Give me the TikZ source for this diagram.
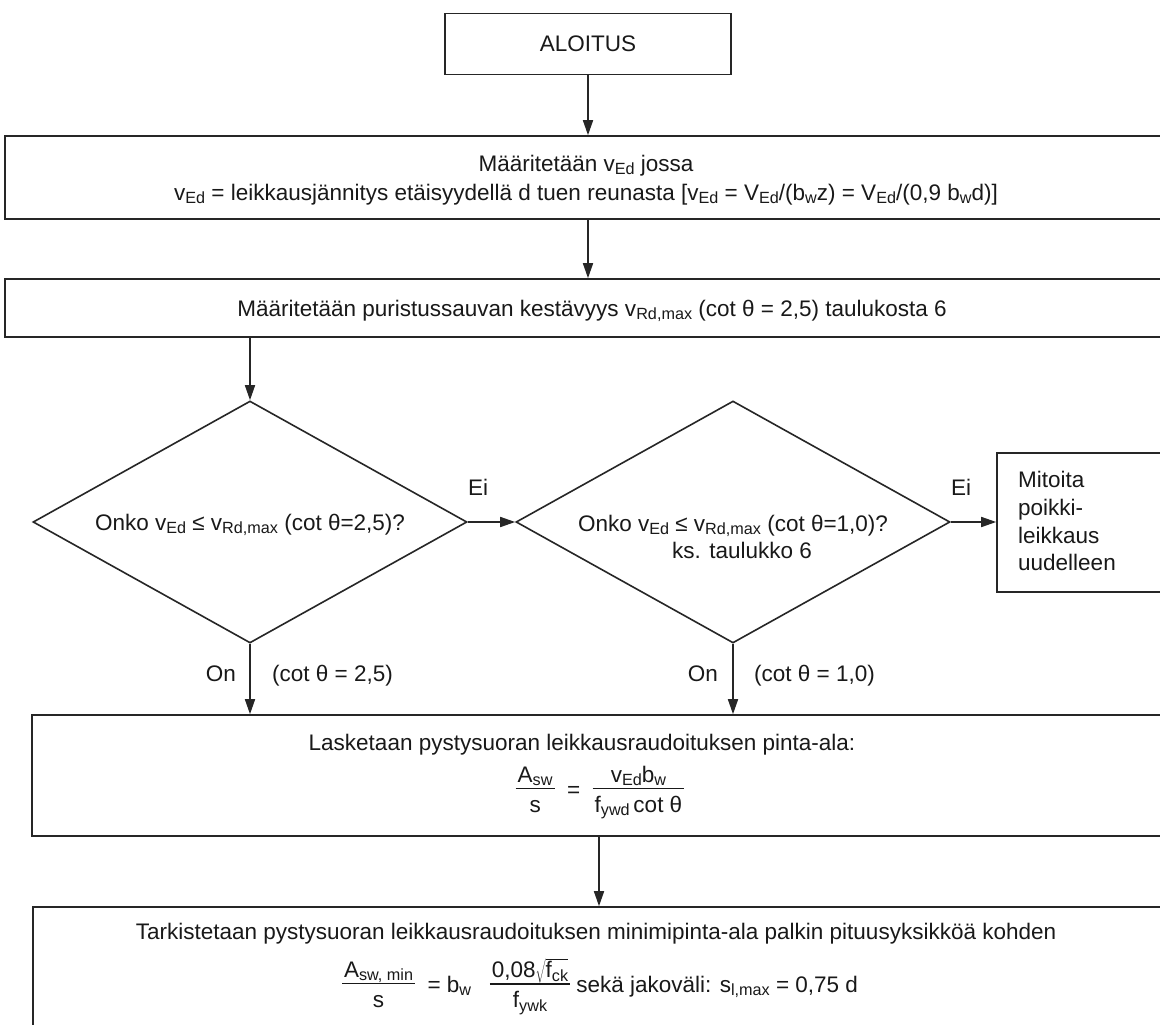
\documentclass[tikz,border=0pt]{standalone}
\usepackage{fontspec}
\setmainfont{Liberation Sans}
\usetikzlibrary{arrows.meta,shapes.geometric}
\newcommand\sbx[1]{\raisebox{-0.3ex}{\scalebox{0.72}{#1}}}
\newcommand\fr[2]{{\setlength\arrayrulewidth{1.4pt}\renewcommand\arraystretch{1.0}\begin{tabular}[c]{@{\hspace{2pt}}c@{\hspace{2pt}}}#1\\[-2pt]\hline\rule{0pt}{23pt}#2\end{tabular}}}
\begin{document}
\begin{tikzpicture}[x=1pt,y=-1pt,
  box/.style={draw=black!85, line width=1.6pt, rectangle, inner sep=0pt},
  dia/.style={draw=black!85, line width=1.6pt, diamond, inner sep=0pt, minimum width=434pt, minimum height=242pt},
  txt/.style={inner sep=0pt, anchor=base, font=\fontsize{22.5}{26}\selectfont, text=black!90},
  arr/.style={draw=black!85, line width=1.6pt, -{Triangle[length=15pt,width=10pt]}}]
\useasboundingbox (0,0) rectangle (1160,1025);
\clip (0,0) rectangle (1160,1025);
\fill[white] (0,0) rectangle (1160,1025);
% boxes
\node[box, minimum width=286pt, minimum height=61pt] (start) at (588,44) {};
\node[box, minimum width=1200pt, minimum height=83pt] (b2) at (605,177.5) {};
\node[box, minimum width=1200pt, minimum height=58pt] (b3) at (605,308) {};
\node[dia] (d1) at (250,522) {};
\node[dia] (d2) at (733,522) {};
\node[box, minimum width=210pt, minimum height=139pt] (redo) at (1102,522.5) {};
\node[box, minimum width=1180pt, minimum height=121pt] (b4) at (622,775.5) {};
\node[box, minimum width=1180pt, minimum height=200pt] (b5) at (623,1007) {};
\coordinate (c45) at (599,836);
% texts
\node[txt] (t1) at (588,52) {ALOITUS};
\node[txt] (t2a) at (586,171) {Määritetään v\sbx{Ed} jossa};
\node[txt] (t2b) at (586,200) {v\sbx{Ed} = leikkausjännitys etäisyydellä d tuen reunasta [v\sbx{Ed} = V\sbx{Ed}/(b\sbx{w}z) = V\sbx{Ed}/(0,9 b\sbx{w}d)]};
\node[txt] (t3) at (592,316) {Määritetään puristussauvan kestävyys v\sbx{Rd,max} (cot θ = 2,5) taulukosta 6};
\node[txt] (td1) at (250,530) {Onko v\sbx{Ed} ≤ v\sbx{Rd,max} (cot θ=2,5)?};
\node[txt] (td2a) at (733,531) {Onko v\sbx{Ed} ≤ v\sbx{Rd,max} (cot θ=1,0)?};
\node[txt] (td2b) at (742,558) {ks. taulukko 6};
\node[txt] (ei1) at (478,495) {Ei};
\node[txt] (ei2) at (961,495) {Ei};
\node[txt, anchor=base west] (r1) at (1018,487) {Mitoita};
\node[txt, anchor=base west] (r2) at (1018,515) {poikki-};
\node[txt, anchor=base west] (r3) at (1018,543) {leikkaus};
\node[txt, anchor=base west] (r4) at (1018,570) {uudelleen};
\node[txt, anchor=base east] (on1) at (236,681) {On};
\node[txt, anchor=base west] (ct1) at (272,681) {(cot θ = 2,5)};
\node[txt, anchor=base east] (on2) at (718,681) {On};
\node[txt, anchor=base west] (ct2) at (754,681) {(cot θ = 1,0)};
\node[txt] (t4) at (582,750) {Lasketaan pystysuoran leikkausraudoituksen pinta-ala:};
\node[txt, anchor=center] (f4) at (600,792) {\fr{A\sbx{sw}}{s}\; = \;\fr{v\sbx{Ed}b\sbx{w}}{f\sbx{ywd}\,cot θ}};
\node[txt] (t5) at (596,939) {Tarkistetaan pystysuoran leikkausraudoituksen minimipinta-ala palkin pituusyksikköä kohden};
\node[txt, anchor=center] (f5) at (600,987) {\fr{A\sbx{sw, min}}{s}\; = b\sbx{w}\;\; \fr{0,08$\sqrt{\mbox{f\sbx{ck}}}$}{f\sbx{ywk}} sekä jakoväli: s\sbx{l,max} = 0,75 d};
% connectors
\draw[arr] (start.south) -- (start.south |- b2.north);
\draw[arr] (start.south |- b2.south) -- (start.south |- b3.north);
\draw[arr] (d1.north |- b3.south) -- (d1.north);
\draw[arr] (d1.east) -- (d2.west);
\draw[arr] (d2.east) -- (redo.west |- d2.east);
\draw[arr] (d1.south) -- (d1.south |- b4.north);
\draw[arr] (d2.south) -- (d2.south |- b4.north);
\draw[arr] (c45) -- (c45 |- b5.north);
\end{tikzpicture}
\end{document}
